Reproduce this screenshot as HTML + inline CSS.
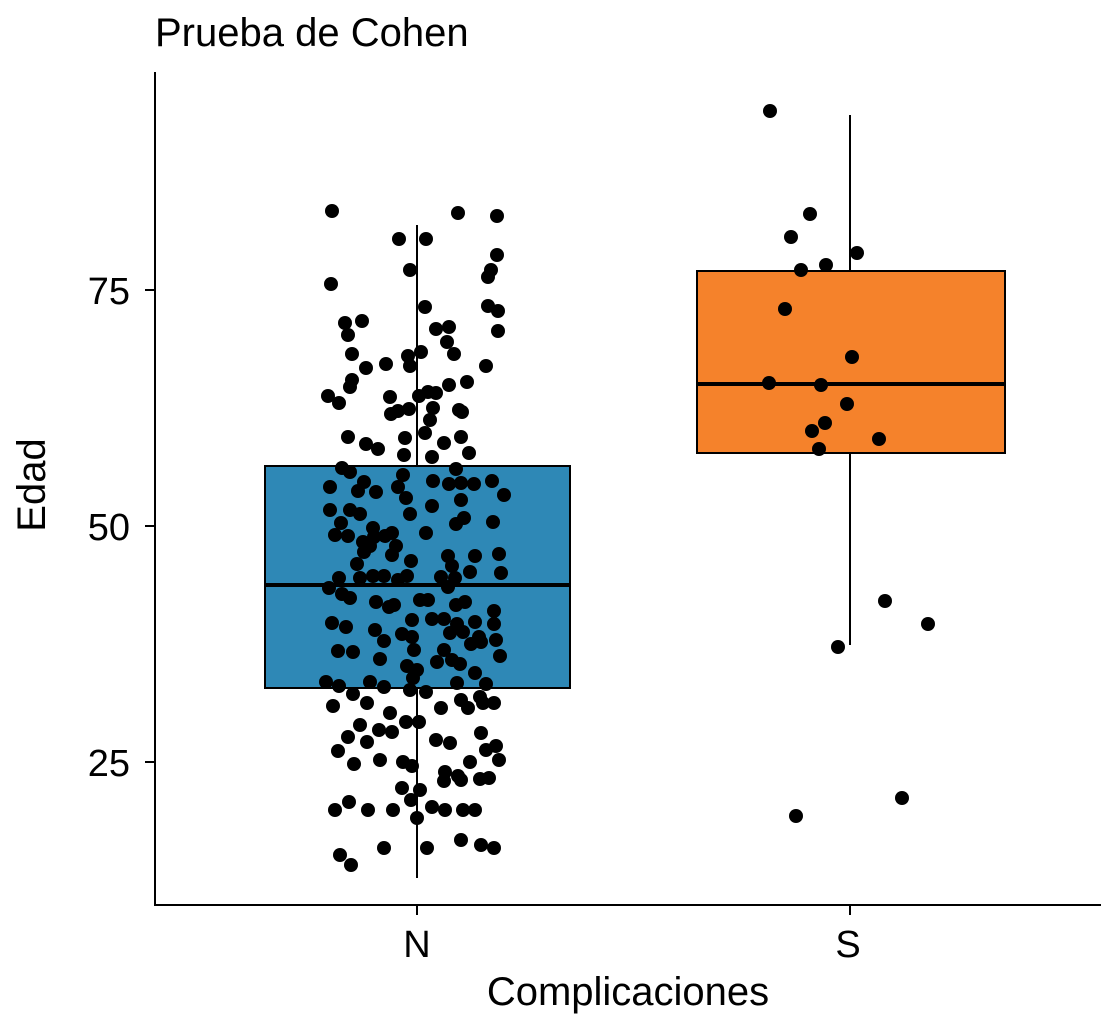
<!DOCTYPE html>
<html><head><meta charset="utf-8"><style>body{margin:0;background:#fff}svg{display:block}text{font-family:"Liberation Sans",Arial,sans-serif}</style></head>
<body>
<svg id="s" width="1101" height="1024" viewBox="0 0 1101 1024" xmlns="http://www.w3.org/2000/svg">
<rect width="1101" height="1024" fill="#fff"/>
<text x="155" y="46" font-size="40">Prueba de Cohen</text>
<line x1="155" y1="72" x2="155" y2="905" stroke="#000" stroke-width="2"/>
<line x1="154" y1="905" x2="1101" y2="905" stroke="#000" stroke-width="2"/>
<g stroke="#000" stroke-width="2">
<line x1="145" y1="290" x2="155" y2="290"/><line x1="145" y1="526" x2="155" y2="526"/><line x1="145" y1="762" x2="155" y2="762"/>
<line x1="417" y1="905" x2="417" y2="915"/><line x1="850" y1="905" x2="850" y2="915"/>
</g>
<g font-size="38" text-anchor="end"><text x="130" y="304">75</text><text x="130" y="540">50</text><text x="130" y="776">25</text></g>
<g font-size="38" text-anchor="middle"><text x="417" y="957">N</text><text x="848" y="957">S</text>
<text x="628" y="1005" font-size="40">Complicaciones</text>
<text transform="translate(45,485) rotate(-90)" font-size="40">Edad</text></g>
<line x1="417" y1="225" x2="417" y2="878" stroke="#000" stroke-width="2"/>
<rect x="265" y="466" width="305" height="222" fill="#2e88b6" stroke="#000" stroke-width="2"/>
<line x1="265" y1="585" x2="570" y2="585" stroke="#000" stroke-width="4"/>
<line x1="850" y1="115" x2="850" y2="645" stroke="#000" stroke-width="2"/>
<rect x="697" y="271" width="308" height="182" fill="#f5822b" stroke="#000" stroke-width="2"/>
<line x1="697" y1="384" x2="1005" y2="384" stroke="#000" stroke-width="4"/>
<g id="pts" fill="#000"></g>
</svg>
<script>
var p=[770,111,810,214,791,237,857,253,801,270,826,265,785,309,769,383,821,385,852,357,847,404,812,431,825,423,879,439,819,449,885,601,928,624,838,647,902,798,796,816,
332,211,458,213,497,216,426,239,399,239,497,255,410,270,491,270,488,277,331,284,425,307,488,306,498,311,345,323,362,321,348,335,436,329,449,327,498,331,447,342,421,352,408,356,454,354,352,354,386,364,366,368,486,366,410,366,352,380,350,387,467,382,328,396,390,397,339,403,419,396,449,385,428,392,436,393,409,409,459,410,462,412,391,414,398,411,433,408,430,420,425,433,348,437,366,444,405,438,444,443,461,437,378,449,469,453,404,455,432,457,342,468,350,472,403,475,456,469,364,482,433,481,330,487,449,484,461,483,474,484,492,481,504,495,358,491,398,487,406,498,376,492,410,514,432,506,461,500,350,510,360,514,330,510,341,523,335,535,348,536,373,528,385,536,392,533,426,533,456,524,464,518,493,522,363,542,370,546,374,537,396,546,364,552,392,555,357,564,411,561,448,556,475,556,452,566,499,554,470,572,360,578,373,576,384,576,407,576,339,578,329,588,441,577,455,578,398,580,448,587,501,573,342,594,350,598,376,602,389,607,394,605,420,600,428,600,456,605,465,602,494,611,332,623,412,620,432,619,444,619,457,624,475,622,494,624,346,627,375,630,402,634,412,637,450,633,463,632,479,637,496,640,338,651,353,652,384,641,414,650,471,644,481,642,444,650,500,656,380,659,407,666,417,670,437,662,452,660,460,664,475,673,326,682,339,686,370,682,413,678,384,687,457,683,486,684,353,694,410,690,426,692,480,697,483,703,494,703,367,703,333,706,461,700,441,708,468,708,390,713,360,725,406,722,419,722,348,737,379,730,392,732,367,742,436,740,481,733,496,746,486,750,338,751,450,743,380,760,354,764,403,762,412,766,445,772,458,776,470,762,499,760,444,781,461,780,480,779,489,778,402,788,420,790,411,800,335,810,349,802,368,810,393,810,432,807,445,810,463,810,475,810,417,818,461,840,481,845,494,848,384,848,427,848,340,855,351,865];
var g=document.getElementById('pts'),h='';
for(var i=0;i<p.length;i+=2)h+='<circle cx="'+p[i]+'" cy="'+p[i+1]+'" r="7"/>';
g.innerHTML=h;
</script>
</body></html>
